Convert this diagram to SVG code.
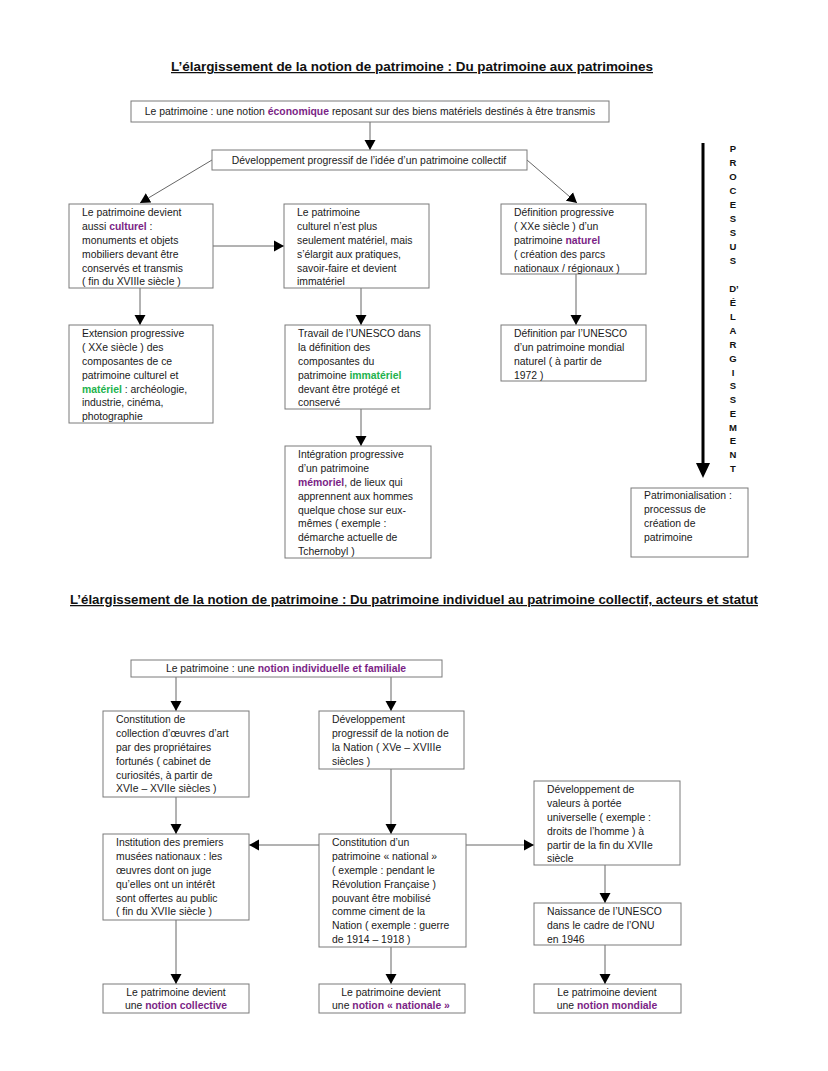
<svg xmlns="http://www.w3.org/2000/svg" width="828" height="1071" viewBox="0 0 828 1071">
<style>
.bg{fill:#fff}
.box{fill:#fff;stroke:#7a7a7a;stroke-width:1}
.t{font-family:"Liberation Sans",Arial,sans-serif;font-size:10.4px;fill:#1a1a1a}
.c{text-anchor:middle}
.p{fill:#7b1f86;font-weight:bold}
.g{fill:#22b24c;font-weight:bold}
.title{font-family:"Liberation Sans",Arial,sans-serif;font-size:12.5px;font-weight:bold;fill:#111;text-anchor:middle;text-decoration:underline}
.ln{stroke:#666;stroke-width:1;fill:none}
.v{font-family:"Liberation Sans",Arial,sans-serif;font-size:9.5px;font-weight:bold;fill:#111;text-anchor:middle}
</style>
<defs>
<marker id="ah" markerWidth="10" markerHeight="12" refX="10" refY="6" orient="auto" markerUnits="userSpaceOnUse">
<path d="M0,0.5 L10,6 L0,11.5 Z" fill="#000"/>
</marker>
</defs>
<rect class="bg" x="0" y="0" width="828" height="1071"/>

<text class="title" x="412" y="71" textLength="482" lengthAdjust="spacingAndGlyphs">L’élargissement de la notion de patrimoine : Du patrimoine aux patrimoines</text>
<text class="title" x="414" y="604" textLength="688" lengthAdjust="spacingAndGlyphs">L’élargissement de la notion de patrimoine : Du patrimoine individuel au patrimoine collectif, acteurs et statut</text>

<g id="connectors">
<line class="ln" x1="370" y1="122" x2="370" y2="150" marker-end="url(#ah)"/>
<line class="ln" x1="212" y1="160" x2="140" y2="203" marker-end="url(#ah)"/>
<line class="ln" x1="527" y1="160" x2="577" y2="203" marker-end="url(#ah)"/>
<line class="ln" x1="213" y1="246" x2="284" y2="246" marker-end="url(#ah)"/>
<line class="ln" x1="140" y1="288" x2="140" y2="325" marker-end="url(#ah)"/>
<line class="ln" x1="361" y1="288" x2="361" y2="325" marker-end="url(#ah)"/>
<line class="ln" x1="576" y1="274" x2="576" y2="325" marker-end="url(#ah)"/>
<line class="ln" x1="361" y1="409" x2="361" y2="446" marker-end="url(#ah)"/>
<line x1="703" y1="143" x2="703" y2="464" stroke="#000" stroke-width="3"/>
<polygon points="696,463 710,463 703,478" fill="#000"/>

<line class="ln" x1="176" y1="677" x2="176" y2="711" marker-end="url(#ah)"/>
<line class="ln" x1="391" y1="677" x2="391" y2="711" marker-end="url(#ah)"/>
<line class="ln" x1="176" y1="797" x2="176" y2="834" marker-end="url(#ah)"/>
<line class="ln" x1="391" y1="769" x2="391" y2="834" marker-end="url(#ah)"/>
<line class="ln" x1="319" y1="845" x2="249" y2="845" marker-end="url(#ah)"/>
<line class="ln" x1="466" y1="845" x2="534" y2="845" marker-end="url(#ah)"/>
<line class="ln" x1="605" y1="865" x2="605" y2="903" marker-end="url(#ah)"/>
<line class="ln" x1="176" y1="920" x2="176" y2="984" marker-end="url(#ah)"/>
<line class="ln" x1="391" y1="947" x2="391" y2="984" marker-end="url(#ah)"/>
<line class="ln" x1="605" y1="945" x2="605" y2="984" marker-end="url(#ah)"/>
</g>

<g id="boxA">
<rect class="box" x="131" y="101" width="478" height="21"/>
<text class="t c" x="370" y="115">Le patrimoine : une notion <tspan class="p">économique</tspan> reposant sur des biens matériels destinés à être transmis</text>
</g>
<g id="boxB">
<rect class="box" x="212" y="150" width="315" height="20"/>
<text class="t c" x="369" y="164">Développement progressif de l’idée d’un patrimoine collectif</text>
</g>
<g id="boxC1">
<rect class="box" x="69" y="204" width="144" height="84"/>
<text class="t" x="82" y="216">Le patrimoine devient</text>
<text class="t" x="82" y="230">aussi <tspan class="p">culturel</tspan> :</text>
<text class="t" x="82" y="244">monuments et objets</text>
<text class="t" x="82" y="258">mobiliers devant être</text>
<text class="t" x="82" y="272">conservés et transmis</text>
<text class="t" x="82" y="285">( fin du XVIIIe siècle )</text>
</g>
<g id="boxC2">
<rect class="box" x="284" y="204" width="145" height="84"/>
<text class="t" x="297" y="216">Le patrimoine</text>
<text class="t" x="297" y="230">culturel n’est plus</text>
<text class="t" x="297" y="244">seulement matériel, mais</text>
<text class="t" x="297" y="258">s’élargit aux pratiques,</text>
<text class="t" x="297" y="272">savoir-faire et devient</text>
<text class="t" x="297" y="285">immatériel</text>
</g>
<g id="boxC3">
<rect class="box" x="501" y="204" width="145" height="70"/>
<text class="t" x="514" y="216">Définition progressive</text>
<text class="t" x="514" y="230">( XXe siècle ) d’un</text>
<text class="t" x="514" y="244">patrimoine <tspan class="p">naturel</tspan></text>
<text class="t" x="514" y="258">( création des parcs</text>
<text class="t" x="514" y="272">nationaux / régionaux )</text>
</g>
<g id="boxD1">
<rect class="box" x="69" y="325" width="144" height="98"/>
<text class="t" x="82" y="337">Extension progressive</text>
<text class="t" x="82" y="351">( XXe siècle ) des</text>
<text class="t" x="82" y="365">composantes de ce</text>
<text class="t" x="82" y="379">patrimoine culturel et</text>
<text class="t" x="82" y="393"><tspan class="g">matériel</tspan> : archéologie,</text>
<text class="t" x="82" y="406">industrie, cinéma,</text>
<text class="t" x="82" y="420">photographie</text>
</g>
<g id="boxD2">
<rect class="box" x="285" y="325" width="145" height="84"/>
<text class="t" x="298" y="337">Travail de l’UNESCO dans</text>
<text class="t" x="298" y="351">la définition des</text>
<text class="t" x="298" y="365">composantes du</text>
<text class="t" x="298" y="379">patrimoine <tspan class="g">immatériel</tspan></text>
<text class="t" x="298" y="393">devant être protégé et</text>
<text class="t" x="298" y="406">conservé</text>
</g>
<g id="boxD3">
<rect class="box" x="501" y="325" width="145" height="56"/>
<text class="t" x="514" y="337">Définition par l’UNESCO</text>
<text class="t" x="514" y="351">d’un patrimoine mondial</text>
<text class="t" x="514" y="365">naturel ( à partir de</text>
<text class="t" x="514" y="379">1972 )</text>
</g>
<g id="boxE">
<rect class="box" x="285" y="446" width="146" height="112"/>
<text class="t" x="298" y="458">Intégration progressive</text>
<text class="t" x="298" y="472">d’un patrimoine</text>
<text class="t" x="298" y="486"><tspan class="p">mémoriel</tspan>, de lieux qui</text>
<text class="t" x="298" y="500">apprennent aux hommes</text>
<text class="t" x="298" y="514">quelque chose sur eux-</text>
<text class="t" x="298" y="527">mêmes ( exemple :</text>
<text class="t" x="298" y="541">démarche actuelle de</text>
<text class="t" x="298" y="555">Tchernobyl )</text>
</g>
<g id="vertical-label">
<text class="v" x="733" y="152">P</text>
<text class="v" x="733" y="166">R</text>
<text class="v" x="733" y="180">O</text>
<text class="v" x="733" y="194">C</text>
<text class="v" x="733" y="208">E</text>
<text class="v" x="733" y="222">S</text>
<text class="v" x="733" y="236">S</text>
<text class="v" x="733" y="250">U</text>
<text class="v" x="733" y="264">S</text>
<text class="v" x="734" y="292">D’</text>
<text class="v" x="733" y="306">É</text>
<text class="v" x="733" y="320">L</text>
<text class="v" x="733" y="334">A</text>
<text class="v" x="733" y="348">R</text>
<text class="v" x="733" y="362">G</text>
<text class="v" x="733" y="376">I</text>
<text class="v" x="733" y="389">S</text>
<text class="v" x="733" y="403">S</text>
<text class="v" x="733" y="417">E</text>
<text class="v" x="733" y="431">M</text>
<text class="v" x="733" y="444">E</text>
<text class="v" x="733" y="458">N</text>
<text class="v" x="733" y="472">T</text>
</g>
<g id="boxF">
<rect class="box" x="631" y="488" width="117" height="69"/>
<text class="t" x="644" y="499">Patrimonialisation :</text>
<text class="t" x="644" y="513">processus de</text>
<text class="t" x="644" y="527">création de</text>
<text class="t" x="644" y="541">patrimoine</text>
</g>

<g id="boxG">
<rect class="box" x="131" y="660" width="311" height="17"/>
<text class="t c" x="286" y="672">Le patrimoine : une <tspan class="p">notion individuelle et familiale</tspan></text>
</g>
<g id="boxH1">
<rect class="box" x="103" y="711" width="146" height="86"/>
<text class="t" x="116" y="723">Constitution de</text>
<text class="t" x="116" y="737">collection d’œuvres d’art</text>
<text class="t" x="116" y="751">par des propriétaires</text>
<text class="t" x="116" y="765">fortunés ( cabinet de</text>
<text class="t" x="116" y="779">curiosités, à partir de</text>
<text class="t" x="116" y="792">XVIe – XVIIe siècles )</text>
</g>
<g id="boxH2">
<rect class="box" x="319" y="711" width="145" height="58"/>
<text class="t" x="332" y="723">Développement</text>
<text class="t" x="332" y="737">progressif de la notion de</text>
<text class="t" x="332" y="751">la Nation ( XVe – XVIIIe</text>
<text class="t" x="332" y="765">siècles )</text>
</g>
<g id="boxH3">
<rect class="box" x="534" y="781" width="146" height="84"/>
<text class="t" x="547" y="793">Développement de</text>
<text class="t" x="547" y="807">valeurs à portée</text>
<text class="t" x="547" y="821">universelle ( exemple :</text>
<text class="t" x="547" y="835">droits de l’homme ) à</text>
<text class="t" x="547" y="849">partir de la fin du XVIIe</text>
<text class="t" x="547" y="862">siècle</text>
</g>
<g id="boxI1">
<rect class="box" x="103" y="834" width="146" height="86"/>
<text class="t" x="116" y="846">Institution des premiers</text>
<text class="t" x="116" y="860">musées nationaux : les</text>
<text class="t" x="116" y="874">œuvres dont on juge</text>
<text class="t" x="116" y="888">qu’elles ont un intérêt</text>
<text class="t" x="116" y="902">sont offertes au public</text>
<text class="t" x="116" y="915">( fin du XVIIe siècle )</text>
</g>
<g id="boxI2">
<rect class="box" x="319" y="834" width="147" height="113"/>
<text class="t" x="332" y="846">Constitution d’un</text>
<text class="t" x="332" y="860">patrimoine « national »</text>
<text class="t" x="332" y="874">( exemple : pendant le</text>
<text class="t" x="332" y="888">Révolution Française )</text>
<text class="t" x="332" y="902">pouvant être mobilisé</text>
<text class="t" x="332" y="915">comme ciment de la</text>
<text class="t" x="332" y="929">Nation ( exemple : guerre</text>
<text class="t" x="332" y="943">de 1914 – 1918 )</text>
</g>
<g id="boxJ">
<rect class="box" x="534" y="903" width="147" height="42"/>
<text class="t" x="547" y="915">Naissance de l’UNESCO</text>
<text class="t" x="547" y="929">dans le cadre de l’ONU</text>
<text class="t" x="547" y="943">en 1946</text>
</g>
<g id="boxK1">
<rect class="box" x="103" y="984" width="146" height="29"/>
<text class="t c" x="176" y="996">Le patrimoine devient</text>
<text class="t c" x="176" y="1009">une <tspan class="p">notion collective</tspan></text>
</g>
<g id="boxK2">
<rect class="box" x="319" y="984" width="146" height="29"/>
<text class="t c" x="391" y="996">Le patrimoine devient</text>
<text class="t c" x="391" y="1009">une <tspan class="p">notion « nationale »</tspan></text>
</g>
<g id="boxK3">
<rect class="box" x="534" y="984" width="147" height="29"/>
<text class="t c" x="607" y="996">Le patrimoine devient</text>
<text class="t c" x="607" y="1009">une <tspan class="p">notion mondiale</tspan></text>
</g>
</svg>
